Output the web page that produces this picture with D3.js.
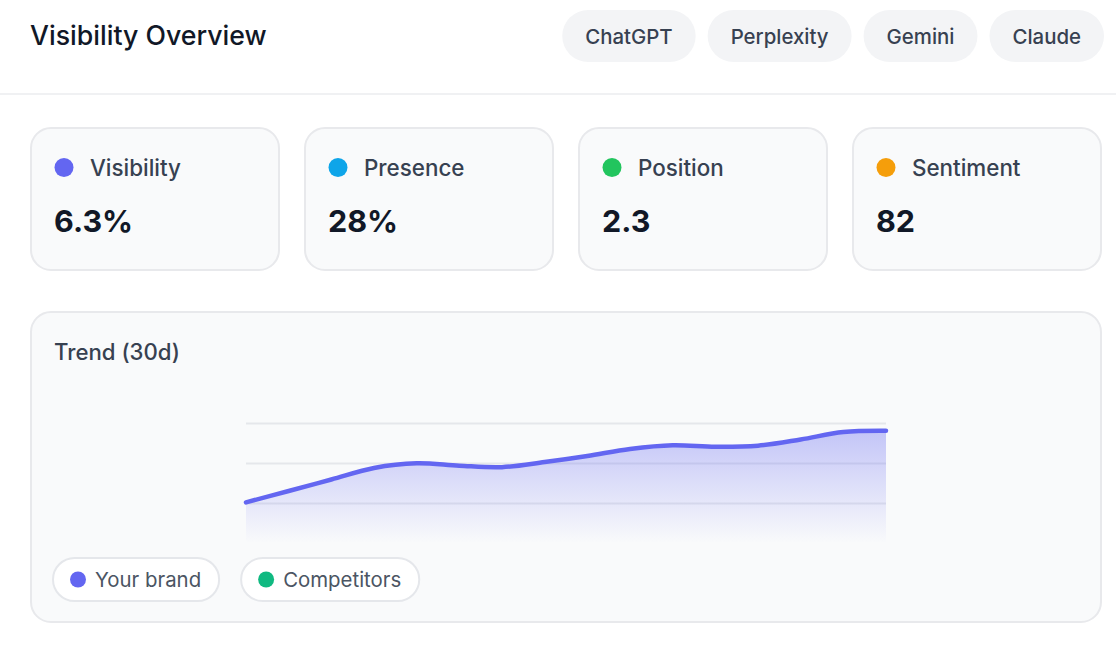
<!DOCTYPE html>
<html>
<head>
<meta charset="utf-8">
<script src="https://cdn.jsdelivr.net/npm/d3@7"></script>
<style>
  html, body { margin: 0; padding: 0; background: #ffffff; }
  svg { display: block; font-family: Inter, "Noto Sans", sans-serif; }
</style>
</head>
<body>
<div id="chart"></div>
<script>
// Data
var engines = ["ChatGPT", "Perplexity", "Gemini", "Claude"];
var metricNames = ["Visibility", "Presence", "Position", "Sentiment"];
var metricValues = ["6.3%", "28%", "2.3", "82"];
var metricColors = ["#6366f1", "#0ea5e9", "#22c55e", "#f59e0b"];
var legendNames = ["Your brand", "Competitors"];
var legendColors = ["#6366f1", "#10b981"];
var trendValues = [25.4, 32.5, 39.7, 46.9, 49.8, 48.3, 47.4, 50.6,
                   54.4, 58.8, 61.1, 60.1, 60.8, 64.7, 69.4, 70.2];
var gridTicks = [25, 50, 75];

var W = 1116, H = 646;

var svg = d3.select("#chart")
    .append("svg")
    .attr("width", W)
    .attr("height", H);

var defs = svg.append("defs");

// Header
svg.append("text")
    .attr("x", 30)
    .attr("y", 45)
    .attr("font-size", 26.7)
    .attr("font-weight", 500)
    .attr("fill", "#111827")
    .text("Visibility Overview");

// engine pills, laid out from the right edge
var tabs = svg.append("g");
var tabRight = 1104, tabPad = 23, tabGap = 12;
var tabItems = engines.map(function (name) {
    var g = tabs.append("g");
    var r = g.append("rect")
        .attr("height", 52)
        .attr("rx", 26)
        .attr("fill", "#f3f4f6");
    var t = g.append("text")
        .attr("y", 43.5)
        .attr("font-size", 20.4)
        .attr("font-weight", 500)
        .attr("fill", "#374151")
        .attr("text-anchor", "middle")
        .text(name);
    return { g: g, r: r, t: t, w: t.node().getComputedTextLength() + tabPad * 2 };
});
var cx = tabRight;
for (var i = tabItems.length - 1; i >= 0; i--) {
    var it = tabItems[i];
    cx -= it.w;
    it.r.attr("x", cx).attr("y", 10).attr("width", it.w);
    it.t.attr("x", cx + it.w / 2);
    cx -= tabGap;
}

svg.append("line")
    .attr("x1", 0).attr("x2", W)
    .attr("y1", 94).attr("y2", 94)
    .attr("stroke", "#f0f1f3")
    .attr("stroke-width", 2);

// Metric cards
var cardX = d3.scaleBand()
    .domain(metricNames)
    .range([31, 1101])
    .paddingInner(26 / 274);

var cards = svg.selectAll(".card")
    .data(metricNames)
    .enter().append("g")
    .attr("class", "card")
    .attr("transform", function (d) { return "translate(" + cardX(d) + ",128)"; });

cards.append("rect")
    .attr("x", 0).attr("y", 0)
    .attr("width", cardX.bandwidth())
    .attr("height", 142)
    .attr("rx", 20)
    .attr("fill", "#f9fafb")
    .attr("stroke", "#e8e9ec")
    .attr("stroke-width", 2);

cards.append("circle")
    .attr("cx", 33)
    .attr("cy", 39.5)
    .attr("r", 9.5)
    .attr("fill", function (d, i) { return metricColors[i]; });

cards.append("text")
    .attr("x", 59)
    .attr("y", 47.8)
    .attr("font-size", 22.4)
    .attr("font-weight", 500)
    .attr("fill", "#374151")
    .text(function (d) { return d; });

cards.append("text")
    .attr("x", 23)
    .attr("y", 103.5)
    .attr("font-size", 30.5)
    .attr("font-weight", 700)
    .attr("fill", "#111827")
    .text(function (d, i) { return metricValues[i]; });

// Trend card
svg.append("rect")
    .attr("x", 31).attr("y", 312)
    .attr("width", 1070).attr("height", 310)
    .attr("rx", 20)
    .attr("fill", "#f9fafb")
    .attr("stroke", "#e8e9ec")
    .attr("stroke-width", 2);

svg.append("text")
    .attr("x", 54)
    .attr("y", 360)
    .attr("font-size", 22.2)
    .attr("font-weight", 500)
    .attr("fill", "#374151")
    .text("Trend (30d)");

var width = 640, height = 160;
var plot = svg.append("g")
    .attr("transform", "translate(246,383)");

var x = d3.scaleLinear().domain([0, trendValues.length - 1]).range([0, width]);
var y = d3.scaleLinear().domain([0, 100]).range([height, 0]);

// grid lines
plot.append("g")
    .call(d3.axisLeft(y).tickValues(gridTicks).tickSize(-width).tickFormat(""))
    .call(function (g) { g.select(".domain").remove(); })
    .call(function (g) {
        g.selectAll(".tick line")
            .attr("stroke", "#e5e7eb")
            .attr("stroke-width", 2);
    });

var grad = defs.append("linearGradient")
    .attr("id", "areaFill")
    .attr("gradientUnits", "userSpaceOnUse")
    .attr("x1", 0).attr("x2", 0)
    .attr("y1", y(d3.max(trendValues)))
    .attr("y2", y(0));
grad.append("stop").attr("offset", "0%").attr("stop-color", "#6366f1").attr("stop-opacity", 0.36);
grad.append("stop").attr("offset", "100%").attr("stop-color", "#6366f1").attr("stop-opacity", 0);

var area = d3.area()
    .x(function (d, i) { return x(i); })
    .y0(y(0))
    .y1(function (d) { return y(d); })
    .curve(d3.curveCatmullRom);

var line = d3.line()
    .x(function (d, i) { return x(i); })
    .y(function (d) { return y(d); })
    .curve(d3.curveCatmullRom);

plot.append("path")
    .datum(trendValues)
    .attr("d", area)
    .attr("fill", "url(#areaFill)");

plot.append("path")
    .datum(trendValues)
    .attr("d", line)
    .attr("fill", "none")
    .attr("stroke", "#6366f1")
    .attr("stroke-width", 4.5)
    .attr("stroke-linecap", "round")
    .attr("stroke-linejoin", "round");

// Legend pills
var lx = 53;
legendNames.forEach(function (name, i) {
    var g = svg.append("g");
    var t = g.append("text")
        .attr("y", 587)
        .attr("font-size", 20.4)
        .attr("fill", "#4b5563")
        .text(name);
    var tw = t.node().getComputedTextLength();
    var w = 42 + tw + 18;
    g.insert("rect", "text")
        .attr("x", lx).attr("y", 558)
        .attr("width", w).attr("height", 43)
        .attr("rx", 21.5)
        .attr("fill", "#ffffff")
        .attr("stroke", "#e5e7eb")
        .attr("stroke-width", 2);
    g.append("circle")
        .attr("cx", lx + 25)
        .attr("cy", 579.5)
        .attr("r", 8)
        .attr("fill", legendColors[i]);
    t.attr("x", lx + 42);
    lx += w + 22;
});
</script>
</body>
</html>
